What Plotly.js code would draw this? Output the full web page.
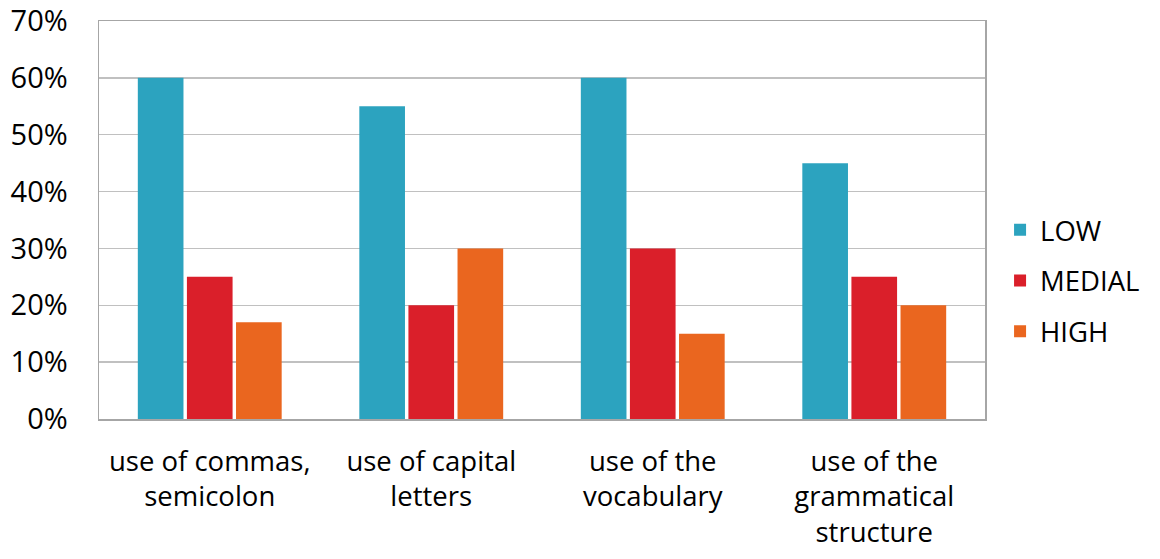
<!DOCTYPE html>
<html><head><meta charset="utf-8">
<script src="https://cdn.plot.ly/plotly-3.0.1.min.js"></script>
<style>html,body{margin:0;padding:0;background:#fff}#chart{width:1160px;height:559px}</style>
</head><body><div id="chart"></div>
<script>
const categories = ["use of commas,<br>semicolon", "use of capital<br>letters", "use of the<br>vocabulary", "use of the<br>grammatical<br>structure"];
const low = [0.60, 0.55, 0.60, 0.45];
const medial = [0.25, 0.20, 0.30, 0.25];
const high = [0.17, 0.30, 0.15, 0.20];
const seriesNames = ["LOW", "MEDIAL", "HIGH"];
const colors = ["#2CA3BF", "#DA1F2A", "#EA661F"];
const font = "Open Sans, Lato, sans-serif";
const data = [low, medial, high].map((v, i) => ({
  type: "bar", x: categories, y: v, name: seriesNames[i], legendgroup: seriesNames[i],
  marker: {color: colors[i]}, hoverinfo: "skip"
}));
const layout = {
  width: 1160, height: 559,
  margin: {l: 99, r: 175, t: 21, b: 140},
  paper_bgcolor: "#fff", plot_bgcolor: "#fff",
  bargap: 0.335, bargroupgap: 0.07,
  font: {family: font, color: "#000"},
  xaxis: {showline: true, linecolor: "#A6A6A6", linewidth: 1.5, mirror: true, ticks: "",
          tickfont: {size: 27.5, family: font, color: "#000"}, ticklabelstandoff: 17},
  yaxis: {range: [0, 0.7], dtick: 0.1, tickformat: ".0%", showgrid: true, gridcolor: "#C0C0C0", gridwidth: 1.5,
          showline: true, linecolor: "#A6A6A6", linewidth: 1.5, mirror: true, zeroline: false,
          ticks: "", ticklabelstandoff: 24, tickfont: {size: 29, family: font, color: "#000"}},
  legend: {x: 1.017, xanchor: "left", y: 0.347, yanchor: "middle",
           font: {size: 27.5, family: font, color: "#000"},
           tracegroupgap: 12, traceorder: "grouped"},
  showlegend: true
};
Plotly.newPlot("chart", data, layout, {displayModeBar: false, staticPlot: true});
</script></body></html>
